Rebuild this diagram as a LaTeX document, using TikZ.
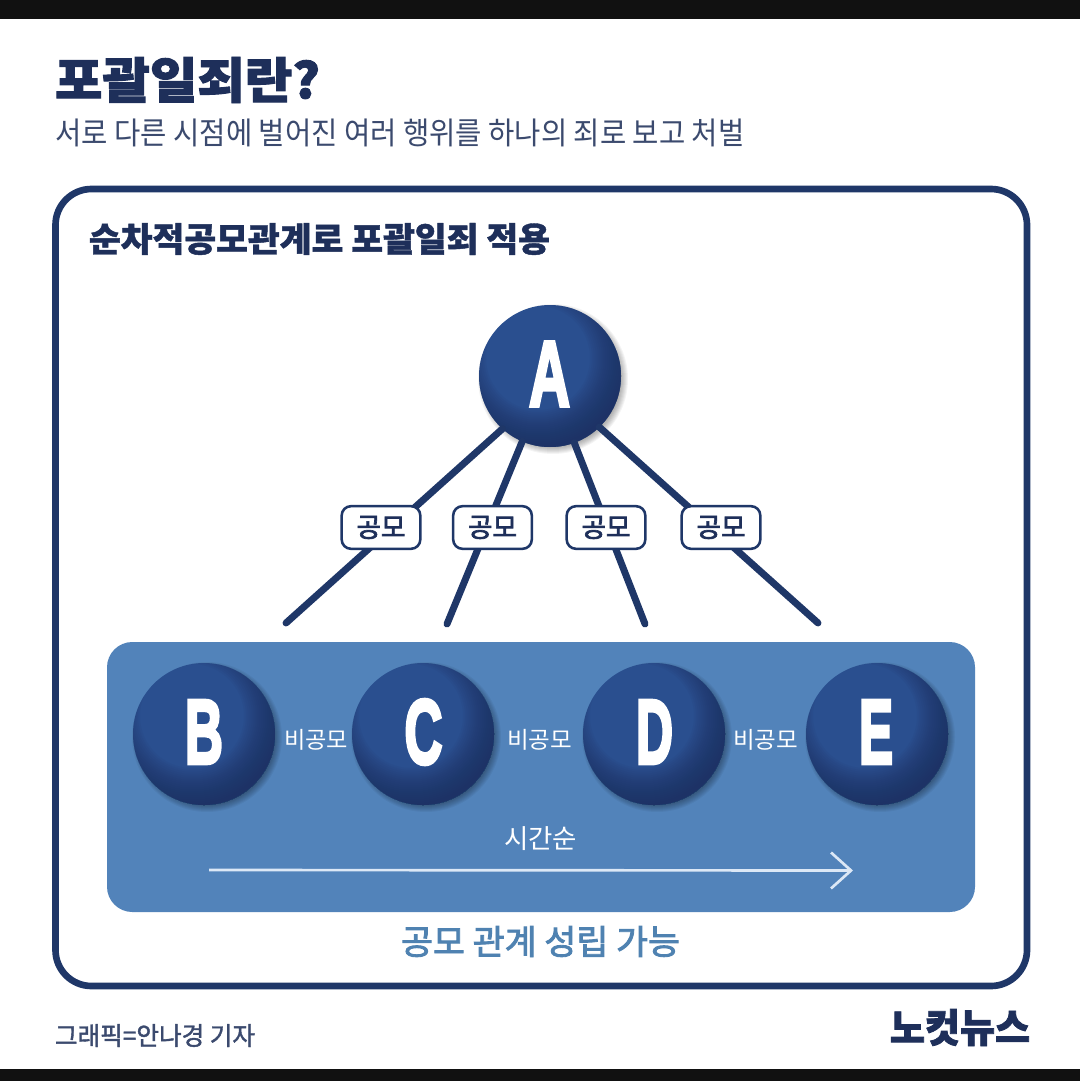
\documentclass[tikz,border=0pt]{standalone}
\usepackage{fontspec}
\usepackage{graphicx}
\usetikzlibrary{arrows.meta}
\setmainfont{Noto Sans CJK KR}
\newfontfamily\letterfont{Liberation Sans}
\definecolor{navy}{HTML}{1F3768}
\definecolor{titlec}{HTML}{1E2F5A}
\definecolor{subc}{HTML}{3B4A6E}
\definecolor{panelc}{HTML}{5283BA}
\definecolor{bandc}{HTML}{111111}
\definecolor{ballA}{HTML}{2A4F8F}
\definecolor{ballC}{HTML}{1D3160}
\definecolor{paleline}{HTML}{DCE8F6}
\definecolor{concl}{HTML}{4F82B1}
\newcommand\fit[3]{\resizebox*{\dimexpr#1pt*3/4\relax}{\dimexpr#2pt*3/4\relax}{#3}}
\newcommand\heavy{\bfseries\addfontfeature{FakeBold=2}}
\newcommand\semibold{\addfontfeature{FakeBold=2.5}}
\newcommand\letterheavy{\letterfont\bfseries\addfontfeature{FakeBold=4}}
\tikzset{
  txt/.style={inner sep=0pt,outer sep=0pt},
  ball/.style={circle,minimum size=106.5pt,inner sep=0pt,outer sep=0pt,fill=ballA,text=white},
  pact/.style={draw=navy,line width=1.9pt,fill=white,rounded corners=7pt,minimum width=59pt,minimum height=32pt,inner sep=0pt,text=titlec},
  link/.style={draw=navy,line width=5.2pt,line cap=round},
  softshadow/.style={fill=black,opacity=.045},
  darken/.style={fill=ballC,opacity=.075,even odd rule},
}
\begin{document}
\begin{tikzpicture}[x=0.75pt,y=-0.75pt]
\useasboundingbox (0,0) rectangle (1080,1081);
\fill[white] (0,0) rectangle (1080,1081);
\fill[bandc] (0,0) rectangle (1080,19);
\fill[bandc] (0,1069) rectangle (1080,1081);
\draw[navy,line width=5pt,rounded corners=27pt] (55.5,189) rectangle (1027,986);
\fill[panelc,rounded corners=19pt] (107,642) rectangle (975,912);
% soft shadows of the balls
\foreach \cx/\cy in {550/376,204/734,423/734,654/734,877/734}{
  \foreach \rr in {68,69,70,71,72,73,74,75}{
    \fill[softshadow] (\cx+3,\cy+3) circle[radius=\rr*0.75pt];
  }
}
\node[txt,text=titlec] (title) at (187.5,80) {\fit{265}{46}{\heavy 포괄일죄란?}};
\node[txt,text=subc] (sub) at (400,132.5) {\fit{689}{28}{서로 다른 시점에 벌어진 여러 행위를 하나의 죄로 보고 처벌}};
\node[txt,text=titlec] (head) at (319.5,239) {\fit{461}{32}{\bfseries\addfontfeature{FakeBold=1.2} 순차적공모관계로 포괄일죄 적용}};

\coordinate (e1) at (286,623);
\coordinate (e2) at (447,624);
\coordinate (e3) at (645,624);
\coordinate (e4) at (818,623);
\node[ball] (A) at (550,376) {};
\node[ball] (B) at (204,734) {};
\node[ball] (C) at (423,734) {};
\node[ball] (D) at (654,734) {};
\node[ball] (E) at (877,734) {};
\foreach \n in {A,B,C,D,E}{
  \begin{scope}
    \clip (\n.center) circle[radius=53.25pt];
    \foreach \r in {52,54,...,88}{
      \fill[darken] ([shift={(-80,-80)}]\n.center) rectangle ([shift={(80,80)}]\n.center)
        ([shift={(-12,-18)}]\n.center) circle[radius=\r*0.75pt];
    }
  \end{scope}
}
\node[txt,text=white] (la) at (549.5,374) {\fit{41}{64}{\letterheavy A}};
\node[txt,text=white] (lb) at (204,732) {\fit{38}{63}{\letterheavy B}};
\node[txt,text=white] (lc) at (423.5,732) {\fit{38}{65}{\letterheavy C}};
\node[txt,text=white] (ld) at (654.5,732) {\fit{37}{63}{\letterheavy D}};
\node[txt,text=white] (le) at (876,732) {\fit{34}{63}{\letterheavy E}};

\draw[link] (A.228) -- (e1);
\draw[link] (A.247.5) -- (e2);
\draw[link] (A.290) -- (e3);
\draw[link] (A.314) -- (e4);
\node[pact] (p1) at (381,527.5) {\fit{49}{23}{\semibold 공모}};
\node[pact] (p2) at (492.5,527.5) {\fit{49}{23}{\semibold 공모}};
\node[pact] (p3) at (606,527.5) {\fit{49}{23}{\semibold 공모}};
\node[pact] (p4) at (721,527.5) {\fit{49}{23}{\semibold 공모}};

\node[txt,text=white] (n1) at (316,739.5) {\fit{64}{21}{비공모}};
\node[txt,text=white] (n2) at (539.5,739.5) {\fit{65}{21}{비공모}};
\node[txt,text=white] (n3) at (765.5,739.5) {\fit{65}{21}{비공모}};
\node[txt,text=white] (time) at (540.5,839) {\fit{73}{24}{시간순}};
\coordinate (ts) at (209,870);
\coordinate (te) at (853,870.5);
\draw[paleline,line width=2pt,-{Straight Barb[length=15pt,width=27pt,line width=2pt]}] (ts) -- (te);
\node[txt,text=concl] (result) at (540.5,941.5) {\fit{279}{31}{\semibold 공모 관계 성립 가능}};
\node[txt,text=subc] (credit) at (155,1035.5) {\fit{200}{23}{\addfontfeature{FakeBold=1.5}그래픽=안나경 기자}};
\node[txt,text=titlec] (logo) at (960,1027.5) {\fit{140}{37}{\heavy 노컷뉴스}};
\end{tikzpicture}
\end{document}
